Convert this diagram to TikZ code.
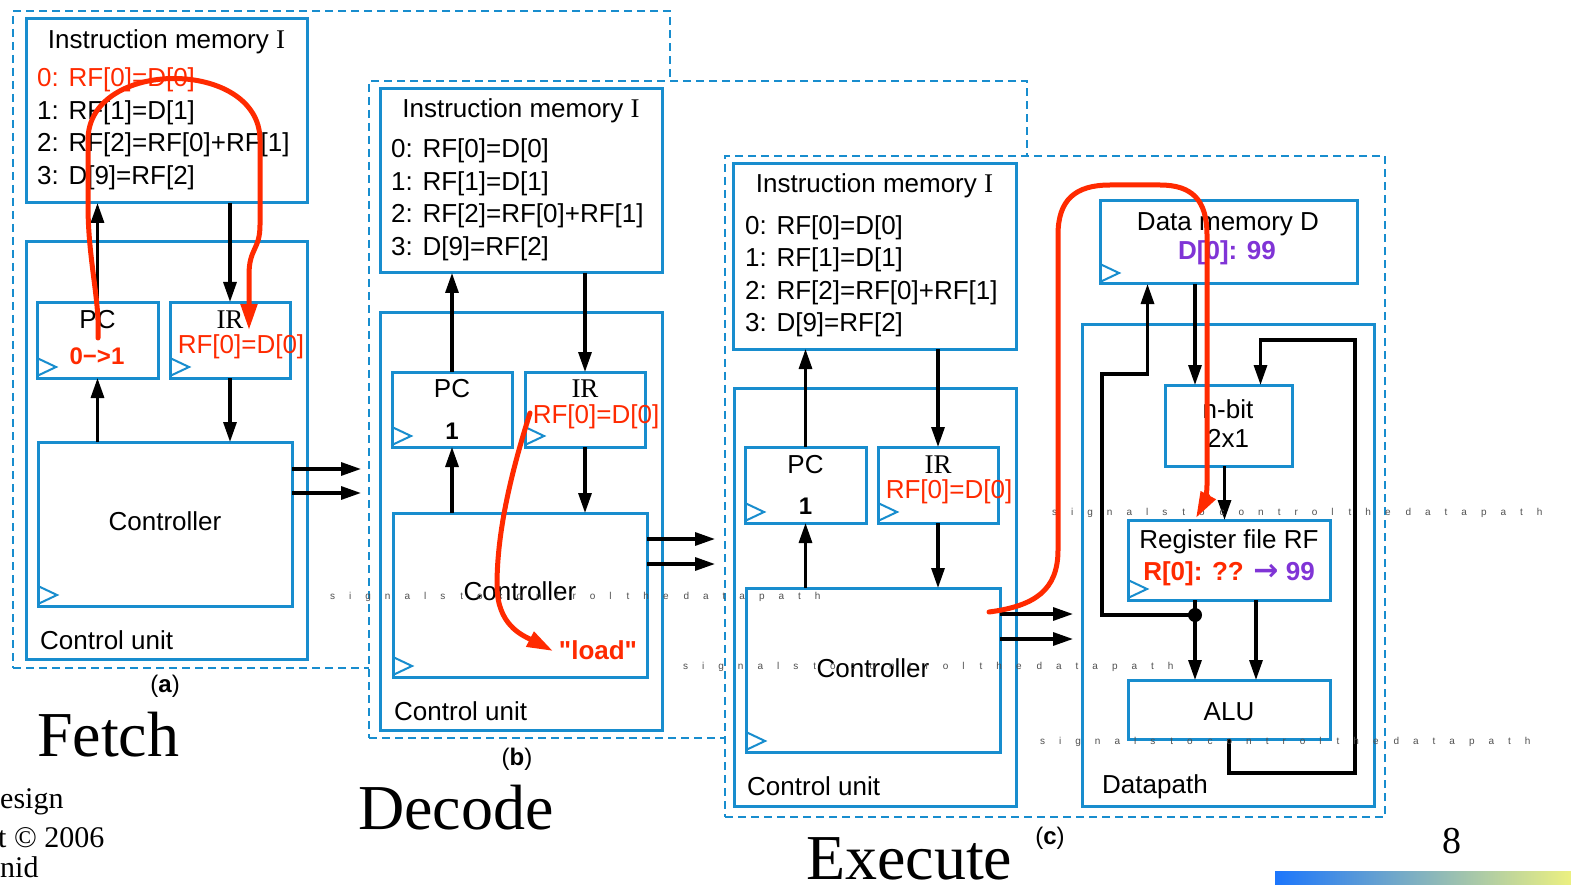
\documentclass[tikz,border=0pt]{standalone}
\usepackage{fontspec}
\setmainfont{Liberation Sans}
\newfontfamily\tnr{Liberation Serif}
\newfontfamily\dvs{DejaVu Sans}
\newfontfamily\sigfont[LetterSpace=140]{Liberation Sans}
\usetikzlibrary{positioning,arrows.meta}

\definecolor{cublue}{RGB}{24,141,206}
\definecolor{hired}{RGB}{255,42,0}
\definecolor{valpurple}{RGB}{128,52,214}
\definecolor{siggray}{RGB}{80,80,80}
\definecolor{barblue}{RGB}{28,118,252}
\definecolor{baryellow}{RGB}{236,240,128}

\newcommand{\lbl}{\fontsize{26}{32.5}\selectfont}
\newcommand{\irlbl}{\tnr\fontsize{27}{30}\selectfont}
\newcommand{\bigttl}{\tnr\fontsize{64}{70}\selectfont}
\newcommand{\clocktri}[1]{\draw[clk] ([yshift=2pt]#1.south west) -- ++(19,-9) -- ++(-19,-9);}
\newcommand{\sigline}{signals\hspace{15pt}to\hspace{15pt}control\hspace{15pt}the\hspace{15pt}datapath}
\newcommand{\dquote}{\XeTeXglyph\XeTeXcharglyph"22\relax}

\tikzset{
  blk/.style={draw=cublue, line width=3pt, fill=white, inner sep=0pt, outer sep=0pt},
  panel/.style={draw=cublue, line width=2.2pt, dash pattern=on 8pt off 5pt, fill=white, inner sep=0pt, outer sep=0pt},
  txt/.style={inner sep=0pt, font=\lbl},
  wire/.style={line width=3.2pt, ->},
  flow/.style={hired, line width=5pt, line cap=round, -{Triangle[length=26pt,width=16pt]}},
  clk/.style={cublue, line width=2pt},
  sigtxt/.style={inner sep=0pt, text=siggray, font=\sigfont\fontsize{10}{12}\selectfont, anchor=base west},
}

\begin{document}
\begin{tikzpicture}[x=1pt, y=-1pt, >={Triangle[length=20pt,width=13pt]}]
\useasboundingbox (0,0) rectangle (1571,885);

% (a) fetch
\node[panel, minimum width=657, minimum height=657] (fetchp) at (341.5,339.5) {};
\node[blk, minimum width=281, minimum height=184] (ima) at (166.5,111) {};
\node[blk, minimum width=281, minimum height=417] (cua) at (166.5,450.5) {};
\node[blk, minimum width=121, minimum height=76] (pca) at (97.5,340) {};
\node[blk, minimum width=120, minimum height=76] (ira) at (230,340) {};
\node[blk, minimum width=254, minimum height=164] (ctla) at (165,524) {};
\clocktri{pca}
\clocktri{ira}
\clocktri{ctla}

\node[txt, anchor=base] (ima-t) at (166.5,49) {Instruction memory {\irlbl I}};
\node[txt, anchor=base west, align=left] (ima-l) at (37,184.5) {\textcolor{hired}{0: RF[0]=D[0]}\\1: RF[1]=D[1]\\2: RF[2]=RF[0]+RF[1]\\3: D[9]=RF[2]};
\node[txt, anchor=base] (pca-t) at (97.5,328) {PC};
\node[txt, anchor=base, text=hired, font=\bfseries\fontsize{24}{28}\selectfont] (pca-v) at (97,364) {0−>1};
\node[txt, anchor=base, font=\irlbl] (ira-t) at (230,328) {IR};
\node[txt, anchor=base, text=hired] (ira-v) at (241,353) {RF[0]=D[0]};
\node[txt, anchor=base] (ctla-t) at (165,530) {Controller};
\node[txt, anchor=base west] (cua-t) at (40,649) {Control unit};
\node[txt, anchor=base, font=\fontsize{24}{28}\selectfont] (laba) at (165,692) {(\textbf{a})};

\draw[wire] (pca.north) -- (pca.north |- ima.south);
\draw[wire] (ctla.north -| pca) -- (pca.south);
\draw[wire] (ima.south -| ira) -- (ira.north);
\draw[wire] (ira.south) -- (ira.south |- ctla.north);
\coordinate (outa1) at (361,469);
\coordinate (outa2) at (361,493);
\draw[wire] (ctla.east |- outa1) -- (outa1);
\draw[wire] (ctla.east |- outa2) -- (outa2);

% (b) decode
\node[panel, minimum width=658, minimum height=657] (decodep) at (698,409.5) {};
\node[blk, minimum width=282, minimum height=184] (imb) at (521,181) {};
\node[blk, minimum width=282, minimum height=418] (cub) at (521,521) {};
\node[blk, minimum width=120, minimum height=75] (pcb) at (452,409.5) {};
\node[blk, minimum width=120, minimum height=75] (irb) at (585,409.5) {};
\node[blk, minimum width=254, minimum height=164] (ctlb) at (520,595) {};
\clocktri{pcb}
\clocktri{irb}
\clocktri{ctlb}

\node[txt, anchor=base] (imb-t) at (521,118) {Instruction memory {\irlbl I}};
\node[txt, anchor=base west, align=left] (imb-l) at (391,255.5) {0: RF[0]=D[0]\\1: RF[1]=D[1]\\2: RF[2]=RF[0]+RF[1]\\3: D[9]=RF[2]};
\node[txt, anchor=base] (pcb-t) at (452,397) {PC};
\node[txt, anchor=base, font=\bfseries\fontsize{24}{28}\selectfont] (pcb-v) at (452,439) {1};
\node[txt, anchor=base, font=\irlbl] (irb-t) at (585,397) {IR};
\node[txt, anchor=base, text=hired] (irb-v) at (596,423) {RF[0]=D[0]};
\node[txt, anchor=base] (ctlb-t) at (520,600) {Controller};
\node[txt, anchor=base, text=hired, font=\bfseries\lbl] (load) at (598,659) {\dquote load\dquote};
\node[txt, anchor=base west] (cub-t) at (394,720) {Control unit};
\node[txt, anchor=base, font=\fontsize{24}{28}\selectfont] (labb) at (517,765) {(\textbf{b})};

\draw[wire] (pcb.north) -- (pcb.north |- imb.south);
\draw[wire] (ctlb.north -| pcb) -- (pcb.south);
\draw[wire] (imb.south -| irb) -- (irb.north);
\draw[wire] (irb.south) -- (irb.south |- ctlb.north);
\coordinate (outb1) at (715,539);
\coordinate (outb2) at (715,564);
\draw[wire] (ctlb.east |- outb1) -- (outb1);
\draw[wire] (ctlb.east |- outb2) -- (outb2);

% (c) execute
\node[panel, minimum width=660, minimum height=661] (execp) at (1055,486.5) {};
\node[blk, minimum width=283, minimum height=185] (imc) at (874.5,256.5) {};
\node[blk, minimum width=282, minimum height=418] (cuc) at (875,597) {};
\node[blk, minimum width=121, minimum height=76] (pcc) at (805.5,485) {};
\node[blk, minimum width=120, minimum height=76] (irc) at (938,485) {};
\node[blk, minimum width=254, minimum height=164] (ctlc) at (873,670) {};
\clocktri{pcc}
\clocktri{irc}
\clocktri{ctlc}

\node[txt, anchor=base] (imc-t) at (874.5,193) {Instruction memory {\irlbl I}};
\node[txt, anchor=base west, align=left] (imc-l) at (745,331.5) {0: RF[0]=D[0]\\1: RF[1]=D[1]\\2: RF[2]=RF[0]+RF[1]\\3: D[9]=RF[2]};
\node[txt, anchor=base] (pcc-t) at (805.5,473) {PC};
\node[txt, anchor=base, font=\bfseries\fontsize{24}{28}\selectfont] (pcc-v) at (805.5,514) {1};
\node[txt, anchor=base, font=\irlbl] (irc-t) at (938,473) {IR};
\node[txt, anchor=base, text=hired] (irc-v) at (949,498) {RF[0]=D[0]};
\node[txt, anchor=base] (ctlc-t) at (873,677) {Controller};
\node[txt, anchor=base west] (cuc-t) at (747,795) {Control unit};
\node[txt, anchor=base, font=\fontsize{24}{28}\selectfont] (labc) at (1050,844) {(\textbf{c})};

\draw[wire] (pcc.north) -- (pcc.north |- imc.south);
\draw[wire] (ctlc.north -| pcc) -- (pcc.south);
\draw[wire] (imc.south -| irc) -- (irc.north);
\draw[wire] (irc.south) -- (irc.south |- ctlc.north);
\coordinate (outc1) at (1073,614);
\coordinate (outc2) at (1073,639);
\draw[wire] (ctlc.east |- outc1) -- (outc1);
\draw[wire] (ctlc.east |- outc2) -- (outc2);

% datapath
\node[blk, minimum width=292, minimum height=482] (dp) at (1228,565) {};
\node[blk, minimum width=257, minimum height=83] (dm) at (1228.5,242.5) {};
\node[blk, minimum width=127, minimum height=81] (mux) at (1228.5,425.5) {};
\node[blk, minimum width=202, minimum height=80] (rf) at (1229,560) {};
\node[blk, minimum width=202, minimum height=59] (alu) at (1229,709.5) {};
\clocktri{dm}
\clocktri{rf}

\node[txt, anchor=base] (dm-t) at (1228,231) {Data memory D};
\node[txt, anchor=base, text=valpurple, font=\bfseries\lbl] (dm-v) at (1227,260) {D[0]: 99};
\node[txt, anchor=base] (mux-t) at (1228,418) {n-bit};
\node[txt, anchor=base] (mux-s) at (1228,447) {2x1};
\node[txt, anchor=base] (rf-t) at (1229,548) {Register file RF};
\node[txt, anchor=base, font=\bfseries\lbl] (rf-v) at (1229,580) {\textcolor{hired}{R[0]: ??} \textcolor{valpurple}{{\dvs\bfseries\fontsize{30}{30}\selectfont →} 99}};
\node[txt, anchor=base] (alu-t) at (1229,720) {ALU};
\node[txt, anchor=base west] (dp-t) at (1102,793) {Datapath};

\coordinate (jn) at (1195,615);
\draw[wire] (jn |- dm.south) -- (jn |- mux.north);
\draw[wire] ([xshift=-4pt]mux.south) -- ([xshift=-4pt]mux.south |- rf.north);
\draw[wire] (jn |- rf.south) -- (jn |- alu.north);
\draw[wire] ([xshift=27pt]rf.south) -- ([xshift=27pt]rf.south |- alu.north);
\draw[wire] (alu.south) -- ++(0,34) -| (1355,340) -| ([xshift=32pt]mux.north);
\draw[wire] (jn) -| (1102,374) -| ([xshift=-81pt]dm.south);
\fill (jn) circle (7pt);

% titles
\node[inner sep=0pt, font=\bigttl, anchor=base west] (fetch) at (37,756) {Fetch};
\node[inner sep=0pt, font=\bigttl, anchor=base west] (decode) at (358,829) {Decode};
\node[inner sep=0pt, font=\bigttl, anchor=base west] (execute) at (806,879) {Execute};
\node[inner sep=0pt, font=\tnr\fontsize{30}{34}\selectfont, anchor=base west] (ftra) at (0,808) {esign};
\node[inner sep=0pt, font=\tnr\fontsize{30}{34}\selectfont, anchor=base west] (ftrb) at (-2,847) {t © 2006};
\node[inner sep=0pt, font=\tnr\fontsize{30}{34}\selectfont, anchor=base west] (ftrc) at (0,877) {nid};
\node[inner sep=0pt, font=\tnr\fontsize{38}{40}\selectfont, anchor=base] (pgno) at (1452,853) {8};
\shade[left color=barblue, right color=baryellow] (1275,871) rectangle (1571,885);

% signals
\node[sigtxt] (sig1) at (330,599) {\sigline};
\node[sigtxt] (sig2) at (683,669) {\sigline};
\node[sigtxt] (sig3) at (1052,515) {\sigline};
\node[sigtxt] (sig4) at (1040,744) {\sigline};

% red flows
\draw[flow] (98,338) .. controls (100,300) and (88,260) .. (88,205) -- (88,140) .. controls (88,58) and (260,58) .. (260,140) -- (260,225) .. controls (260,250) and (249,248) .. (249,275) -- (249,330);
\draw[flow] (530,413) .. controls (512,470) and (497,530) .. (497,585) .. controls (497,625) and (522,635) .. (553,651);
\draw[flow] (989,612) .. controls (1035,606) and (1058,590) .. (1058,550) -- (1058,235) .. controls (1058,200) and (1075,185) .. (1110,185) -- (1160,185) .. controls (1192,185) and (1207,200) .. (1207,235) -- (1207,485) .. controls (1207,498) and (1203,505) .. (1196,518);

\end{tikzpicture}
\end{document}
